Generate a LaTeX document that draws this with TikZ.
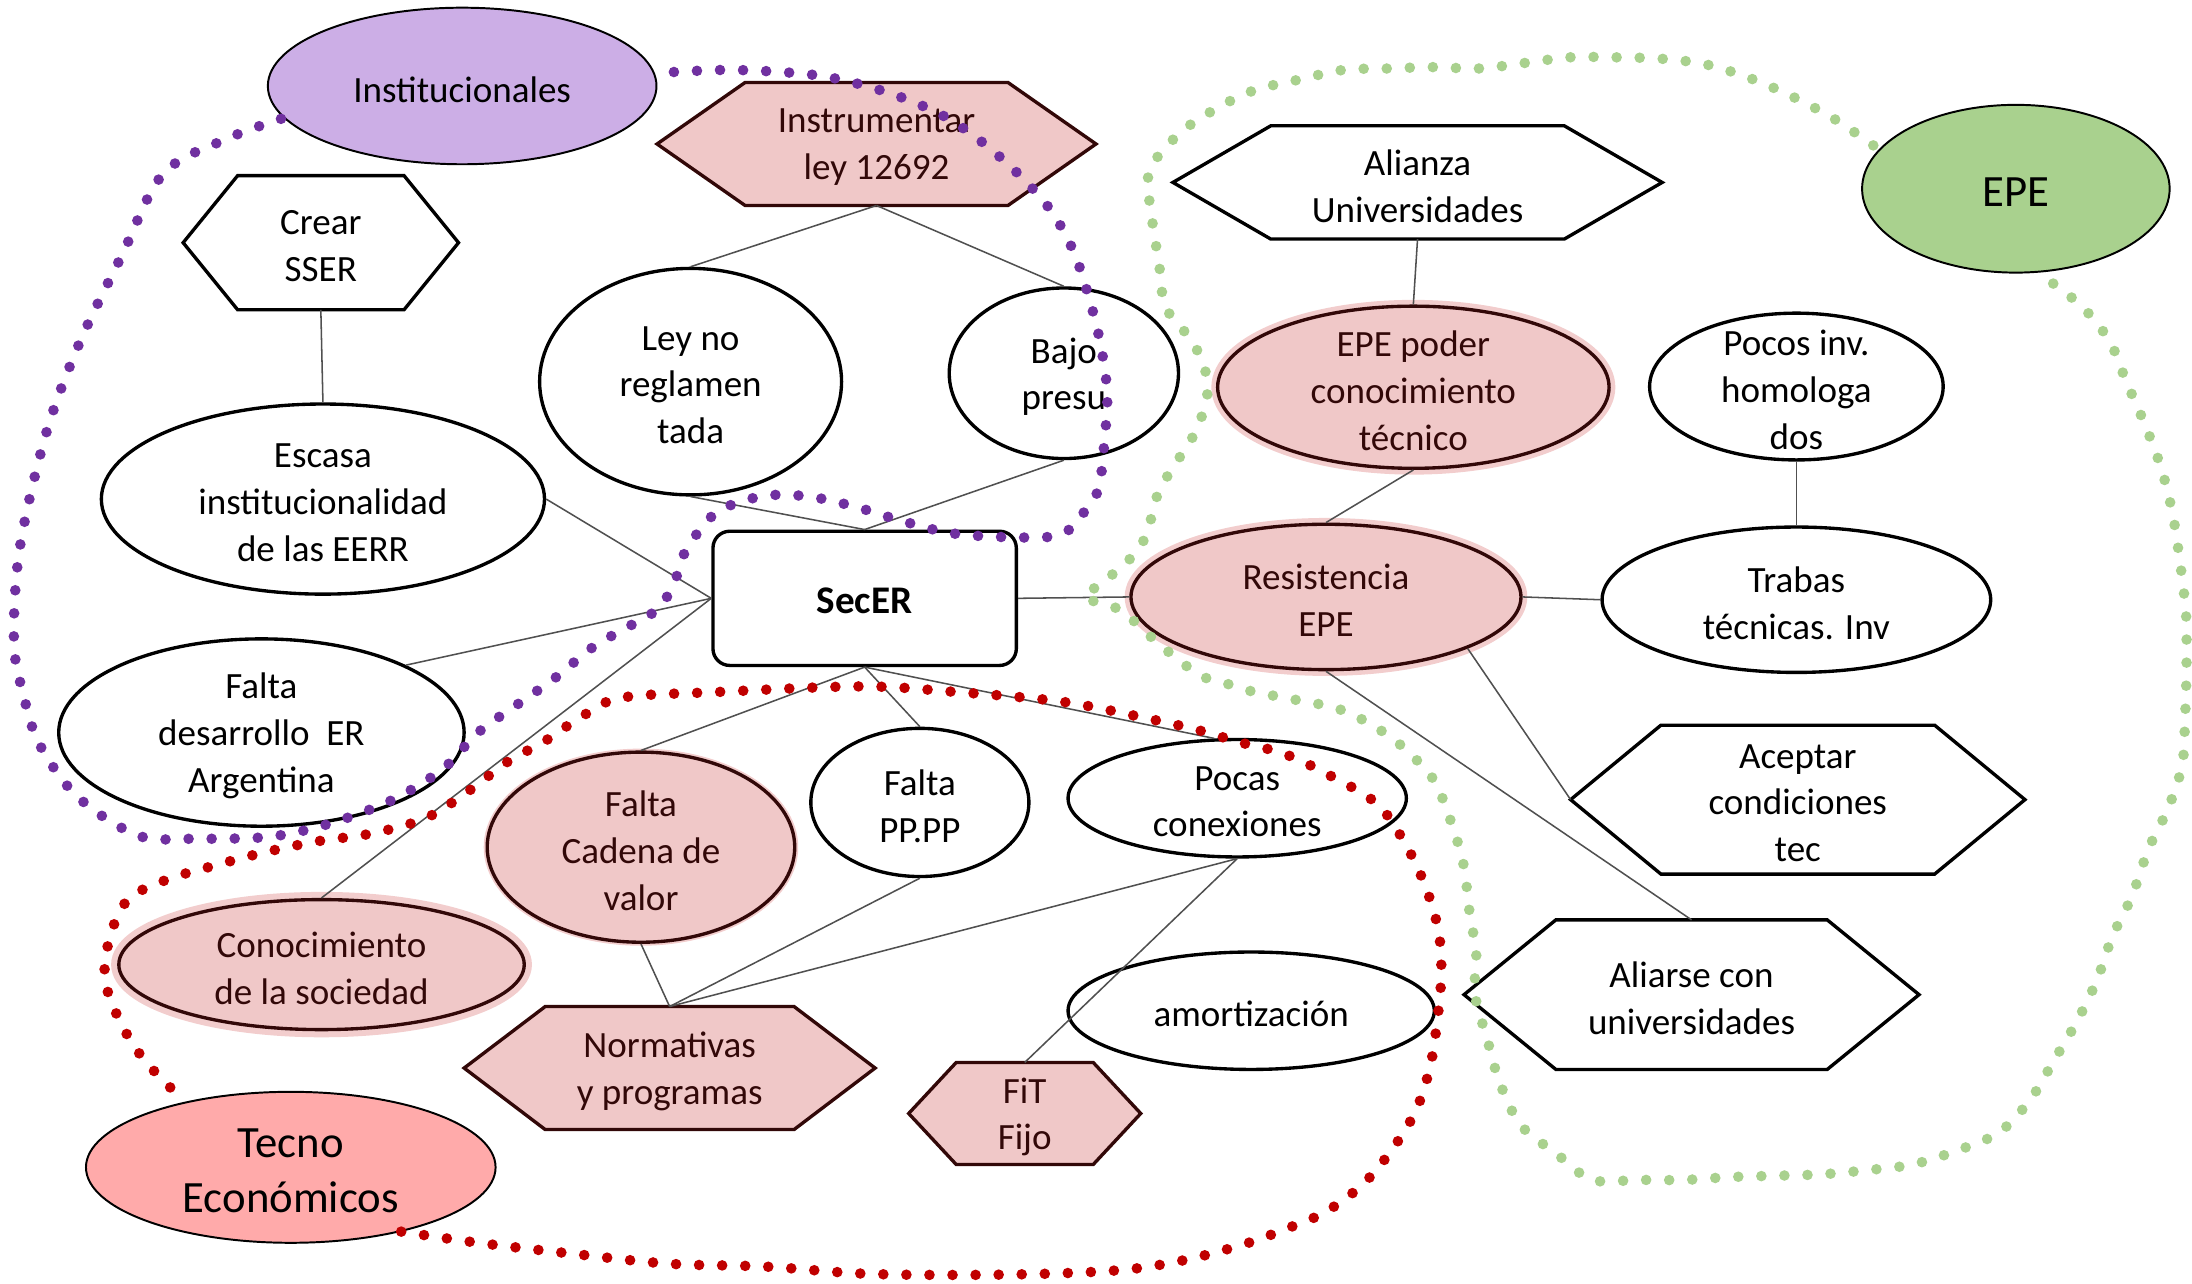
\documentclass[tikz,border=0pt]{standalone}
\usepackage{fontspec}
\setmainfont{Carlito}
\usetikzlibrary{shapes.geometric,backgrounds}
\definecolor{lav}{RGB}{204,174,230}
\definecolor{pinkf}{RGB}{240,200,200}
\definecolor{mybord}{RGB}{50,8,8}
\definecolor{glowc}{RGB}{242,205,205}
\definecolor{tecnof}{RGB}{255,170,170}
\definecolor{epef}{RGB}{169,209,142}
\definecolor{purpd}{RGB}{112,48,160}
\definecolor{redd}{RGB}{192,0,0}
\definecolor{greend}{RGB}{169,209,142}
\definecolor{connc}{RGB}{80,80,80}
\tikzset{
  wbord/.style={draw=black, line width=2.4pt, fill=white},
  pbord/.style={draw=mybord, line width=2.4pt, fill=pinkf},
  glow/.style={preaction={draw=glowc, line width=#1}},
  glow/.default=9pt,
  catbord/.style={draw=black, line width=1.4pt},
  txt/.style={align=center, inner sep=0pt, yshift=-2.5pt, font=\fontsize{26.5}{33.5}\selectfont},
  ptxt/.style={txt, text=mybord},
  bigtxt/.style={align=center, inner sep=0pt, yshift=-2.5pt, font=\fontsize{32}{39}\selectfont},
  hexanchor/.style={inner sep=0pt, outer sep=0pt},
  conn/.style={draw=connc, line width=1.1pt},
  dots/.style={line width=7.6pt, line cap=round, dash pattern=on 0pt off 16.5pt},
}
% name, x, y, width, height, shape style, text style, text
\newcommand{\mkell}[8]{%
  \node[ellipse, #6, minimum width=#4, minimum height=#5, inner sep=0pt] (#1) at (#2,#3) {};
  \node[#7] (#1-t) at (#1.center) {#8};}
% name, x, y, width, height, tip, shape style, text style, text
\newcommand{\mkhex}[9]{%
  \node[hexanchor, minimum width=#4, minimum height=#5] (#1) at (#2,#3) {};
  \begin{scope}[on background layer]
    \draw[#7] (#1.west) -- ([xshift=#6]#1.north west) -- ([xshift=-#6]#1.north east)
      -- (#1.east) -- ([xshift=-#6]#1.south east) -- ([xshift=#6]#1.south west) -- cycle;
  \end{scope}
  \node[#8] (#1-t) at (#1.center) {#9};}
\begin{document}
\begin{tikzpicture}[x=1pt,y=-1pt]
\useasboundingbox (0,0) rectangle (1568,918);

% ---------- nodes ----------
\mkell{inst}{330.6}{61.5}{278}{112}{catbord, fill=lav}{txt}{Institucionales}
\mkhex{instr}{627}{103}{314}{88}{63pt}{pbord}{ptxt}{Instrumentar\\ley 12692}
\mkhex{crear}{229.5}{173.6}{197}{96}{39pt}{wbord}{txt}{Crear\\SSER}
\mkell{escasa}{231}{357}{317}{136}{wbord}{txt}{Escasa\\institucionalidad\\de las EERR}
\mkell{ley}{494}{273}{216}{162}{wbord}{txt}{Ley no\\reglamen\\tada}
\mkell{bajo}{761}{267}{164}{122}{wbord}{txt}{Bajo\\presu}
\node[wbord, rounded corners=12pt, minimum width=217, minimum height=96, inner sep=0pt] (secer) at (618.5,428) {};
\node[inner sep=0pt, yshift=-1.5pt, font=\bfseries\fontsize{28}{34}\selectfont] (secer-t) at (secer.center) {SecER};
\mkell{faltades}{187}{524}{290}{134}{wbord}{txt}{Falta\\desarrollo\ \ ER\\Argentina}
\mkell{cadena}{458.5}{606}{220}{136}{pbord, glow=5pt}{ptxt}{Falta\\Cadena de\\valor}
\mkell{ppp}{658}{574}{156}{106}{wbord}{txt}{Falta\\PP.PP}
\mkell{pocas}{885}{571}{242}{84}{wbord}{txt}{Pocas\\conexiones}
\mkell{conoc}{230}{690}{290}{93}{pbord, glow=11pt}{ptxt}{Conocimiento\\de la sociedad}
\mkhex{norm}{479}{764}{294}{88}{58pt}{pbord}{ptxt}{Normativas\\y programas}
\mkhex{fit}{733}{796.5}{166}{73}{34pt}{pbord}{ptxt}{FiT\\Fijo}
\mkell{amort}{895}{723}{262}{84}{wbord}{txt}{amortización}
\mkell{tecno}{208}{835}{293}{108}{catbord, fill=tecnof}{bigtxt}{Tecno\\Económicos}
\mkhex{alianza}{1014}{130.5}{350}{81}{70pt}{wbord}{txt}{Alianza\\Universidades}
\mkell{epe}{1442}{135}{220}{120}{catbord, fill=epef}{bigtxt}{EPE}
\mkell{epepoder}{1011}{277}{280}{116}{pbord, glow}{ptxt}{EPE poder\\conocimiento\\técnico}
\mkell{pocos}{1285}{276.5}{210}{105}{wbord}{txt}{Pocos inv.\\homologa\\dos}
\mkell{resist}{948.5}{427}{279}{104}{pbord, glow}{ptxt}{Resistencia\\EPE}
\mkell{trabas}{1285}{429}{278}{104}{wbord}{txt}{Trabas\\técnicas. Inv}
\mkhex{aceptar}{1286}{572}{325}{106.5}{64.6pt}{wbord}{txt}{Aceptar\\condiciones\\tec}
\mkhex{aliarse}{1210}{711.5}{325.5}{107}{65.7pt}{wbord}{txt}{Aliarse con\\universidades}

% ---------- connectors ----------
\draw[conn] (instr.south) -- (ley.north);
\draw[conn] (instr.south) -- (bajo.north);
\draw[conn] (crear.south) -- (escasa.north);
\draw[conn] (ley.south) -- (secer.north);
\draw[conn] (bajo.south) -- (secer.north);
\draw[conn] (escasa.east) -- (secer.west);
\draw[conn] (faltades.25) -- (secer.west);
\draw[conn] (conoc.north) -- (secer.west);
\draw[conn] (secer.south) -- (cadena.north);
\draw[conn] (secer.south) -- (ppp.north);
\draw[conn] (secer.south) -- (pocas.111);
\draw[conn] (secer.east) -- (resist.west);
\draw[conn] (cadena.south) -- (norm.north);
\draw[conn] (ppp.south) -- (norm.north);
\draw[conn] (pocas.south) -- (norm.north);
\draw[conn] (pocas.south) -- (fit.north);
\draw[conn] (alianza.south) -- (epepoder.north);
\draw[conn] (epepoder.south) -- (resist.north);
\draw[conn] (pocos.south) -- (trabas.north);
\draw[conn] (resist.east) -- (trabas.west);
\draw[conn] (resist.-20) -- (aceptar.west);
\draw[conn] (resist.south) -- (aliarse.north);

% ---------- dotted groupings ----------
\draw[dots, purpd] plot[smooth, tension=0.55] coordinates {
 (201,85) (163,99) (117,124) (87,183) (57,245) (33,310) (14,393) (10,460)
 (17,498) (27,530) (48,562) (72,583) (103,599) (137,600) (188,599) (222,593)
 (257,582) (287,569) (318,549) (342,524) (370,504) (397,485) (424,463) (450,448)
 (470,436) (482,418) (490,395) (512,367) (545,355) (577,355) (610,362) (643,372)
 (678,381) (713,384) (751,384) (766,378) (777,364) (786,349) (790,316) (792,281)
 (787,245) (779,213) (768,180) (752,151) (730,126) (703,102) (675,83) (643,69)
 (610,59) (577,53) (523,50) (474,52)};
\draw[dots, redd] plot[smooth, tension=0.55] coordinates {
 (287,881) (342,889) (411,897) (479,904) (547,906) (616,911) (684,912) (753,911)
 (807,908) (849,901) (890,890) (920,879) (948,867) (975,847) (996,822) (1013,794)
 (1023,763) (1028,731) (1031,697) (1029,666) (1020,635) (1006,605) (985,575)
 (948,553) (918,539) (887,531) (856,522) (821,514) (760,502) (684,495) (616,491)
 (513,495) (445,499) (417,512) (390,530) (363,545) (335,566) (305,585) (267,596)
 (226,602) (188,610) (154,619) (120,629) (92,643) (79,669) (75,700) (86,731)
 (103,758) (127,783)};
\draw[dots, greend] plot[smooth, tension=0.55] coordinates {
 (1340,104) (1312,85) (1282,69) (1252,56) (1220,46) (1188,42) (1155,41) (1123,41)
 (1091,45) (1058,49) (1026,48) (993,49) (961,50) (929,57) (896,65) (866,80)
 (842,97) (822,123) (824,156) (829,188) (834,220) (854,246) (864,275) (857,305)
 (842,330) (830,349) (825,364) (821,380) (813,395) (801,406) (789,417) (776,427)
 (801,436) (814,447) (826,458) (838,468) (851,478) (865,486) (881,490) (897,495)
 (913,498) (929,501) (945,504) (960,508) (975,515) (990,524) (1003,534) (1025,557)
 (1038,588) (1047,619) (1051,651) (1056,683) (1055,711) (1064,744) (1073,775)
 (1088,805) (1113,825) (1139,844) (1172,844) (1205,844) (1237,842) (1271,841)
 (1303,840) (1336,837) (1368,833) (1400,823) (1430,810) (1452,787) (1469,759)
 (1486,730) (1500,701) (1511,670) (1525,641) (1537,607) (1551,578) (1561,547)
 (1563,514) (1564,481) (1564,448) (1563,431) (1559,399) (1554,367) (1546,335)
 (1534,303) (1521,273) (1509,244) (1489,219) (1462,198)};
\end{tikzpicture}
\end{document}
